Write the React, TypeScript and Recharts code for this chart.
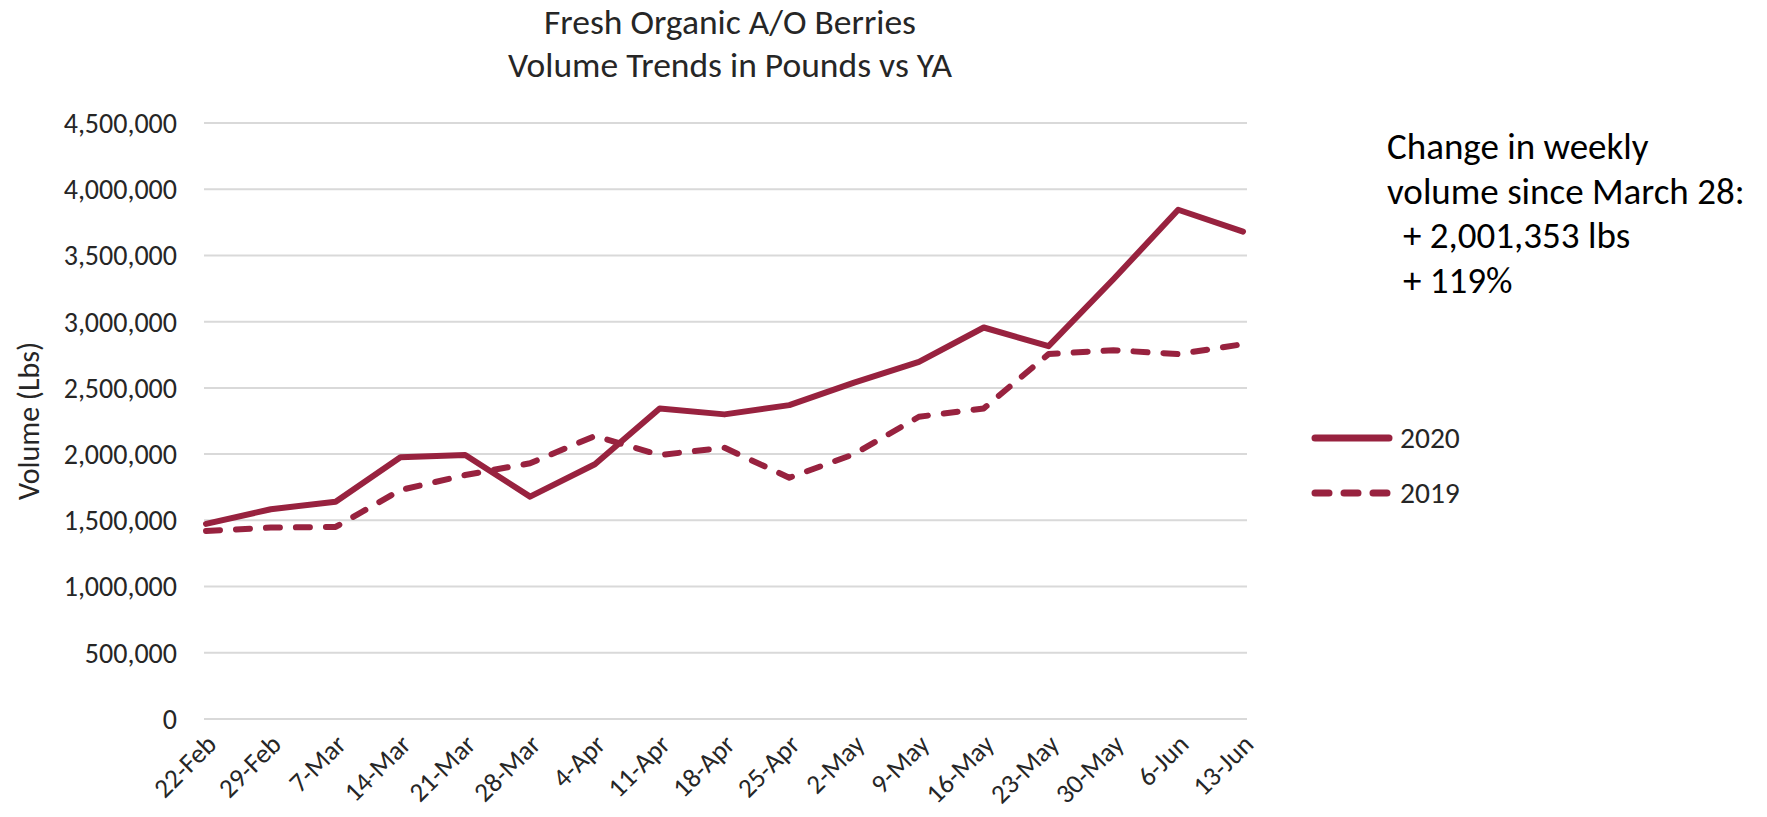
import { LineChart, Line, XAxis, YAxis, CartesianGrid, Label } from 'recharts'

const weeks = [
  '22-Feb', '29-Feb', '7-Mar', '14-Mar', '21-Mar', '28-Mar', '4-Apr', '11-Apr', '18-Apr',
  '25-Apr', '2-May', '9-May', '16-May', '23-May', '30-May', '6-Jun', '13-Jun',
]
const vol2020 = [
  1473000, 1584000, 1641000, 1976000, 1993000, 1679000, 1923000, 2345000, 2300000,
  2370000, 2540000, 2697000, 2956000, 2815000, 3320000, 3845000, 3680000,
]
const vol2019 = [
  1420000, 1445000, 1450000, 1729000, 1842000, 1931000, 2137000, 1993000, 2048000,
  1822000, 2000000, 2282000, 2345000, 2755000, 2785000, 2755000, 2830000,
]
const yTicks = [0, 500000, 1000000, 1500000, 2000000, 2500000, 3000000, 3500000, 4000000, 4500000]
const titleLines = ['Fresh Organic A/O Berries', 'Volume Trends in Pounds vs YA']
const noteLines = ['Change in weekly', 'volume since March 28:', '+ 2,001,353 lbs', '+ 119%']

const data = weeks.map((week, i) => ({ week, y2020: vol2020[i], y2019: vol2019[i] }))

const BERRY = '#98223f'
const FONT = 'Calibri, Carlito, Lato, sans-serif'
const INK = '#262626'

const series = [
  { key: 'y2020', name: '2020', dash: undefined },
  { key: 'y2019', name: '2019', dash: '14 16' },
]

// rotated date labels, anchored just right of each tick
function WeekTick({ x, y, payload }: any) {
  const ax = x + 12
  const ay = y + 27
  return (
    <text
      x={ax}
      y={ay}
      textAnchor="end"
      transform={`rotate(-45, ${ax}, ${ay})`}
      fontSize={27}
      fontFamily={FONT}
      fill={INK}
    >
      {payload.value}
    </text>
  )
}

function YTitle({ viewBox }: any) {
  const cx = 28
  const cy = viewBox.y + viewBox.height / 2
  return (
    <text
      x={cx}
      y={cy}
      transform={`rotate(-90, ${cx}, ${cy})`}
      textAnchor="middle"
      dominantBaseline="central"
      fill={INK}
      fontFamily={FONT}
      fontSize={30}
    >
      Volume (Lbs)
    </text>
  )
}

export default function App() {
  return (
    <div style={{ position: 'relative', width: 1767, height: 817, background: '#fff', fontFamily: FONT }}>
      <style>{'body{margin:0}'}</style>

      <div style={{ position: 'absolute', left: 380, width: 700, top: 1, textAlign: 'center', fontSize: 35.5, lineHeight: '43px', color: INK }}>
        {titleLines.map((t) => (
          <div key={t}>{t}</div>
        ))}
      </div>

      <LineChart width={1767} height={817} data={data} margin={{ top: 123, right: 520, bottom: 0, left: 0 }}>
        <CartesianGrid vertical={false} stroke="#d9d9d9" strokeWidth={2} />
        <XAxis
          dataKey="week"
          interval={0}
          height={98}
          tick={<WeekTick />}
          tickLine={false}
          axisLine={false}
          tickSize={0}
          tickMargin={0}
          padding={{ left: 2, right: 4 }}
        />
        <YAxis
          width={204}
          domain={[0, 4500000]}
          ticks={yTicks}
          tickFormatter={(v: number) => v.toLocaleString('en-US')}
          tick={{ fill: INK, fontSize: 28, fontFamily: FONT }}
          tickLine={false}
          axisLine={false}
          tickSize={0}
          tickMargin={27}
        >
          <Label content={<YTitle />} />
        </YAxis>
        {series.map((s) => (
          <Line
            key={s.key}
            type="linear"
            dataKey={s.key}
            name={s.name}
            stroke={BERRY}
            strokeWidth={6}
            strokeDasharray={s.dash}
            strokeLinecap="round"
            strokeLinejoin="round"
            dot={false}
            activeDot={false}
            isAnimationActive={false}
          />
        ))}
      </LineChart>

      <div style={{ position: 'absolute', left: 1387, top: 125, fontSize: 37, lineHeight: '44.7px', color: '#000' }}>
        {noteLines.map((t, i) => (
          <div key={t} style={{ paddingLeft: i >= 2 ? 16 : 0, whiteSpace: 'nowrap' }}>{t}</div>
        ))}
      </div>

      <div style={{ position: 'absolute', left: 1308, top: 410 }}>
        {series.map((s) => (
          <div key={s.key} style={{ display: 'flex', alignItems: 'center', height: 55 }}>
            <svg width={88} height={14}>
              <line x1={7} y1={7} x2={81} y2={7} stroke={BERRY} strokeWidth={7} strokeLinecap="round" strokeDasharray={s.dash ? '14 15' : undefined} />
            </svg>
            <span style={{ fontSize: 29.5, color: INK, marginLeft: 4 }}>{s.name}</span>
          </div>
        ))}
      </div>
    </div>
  )
}
